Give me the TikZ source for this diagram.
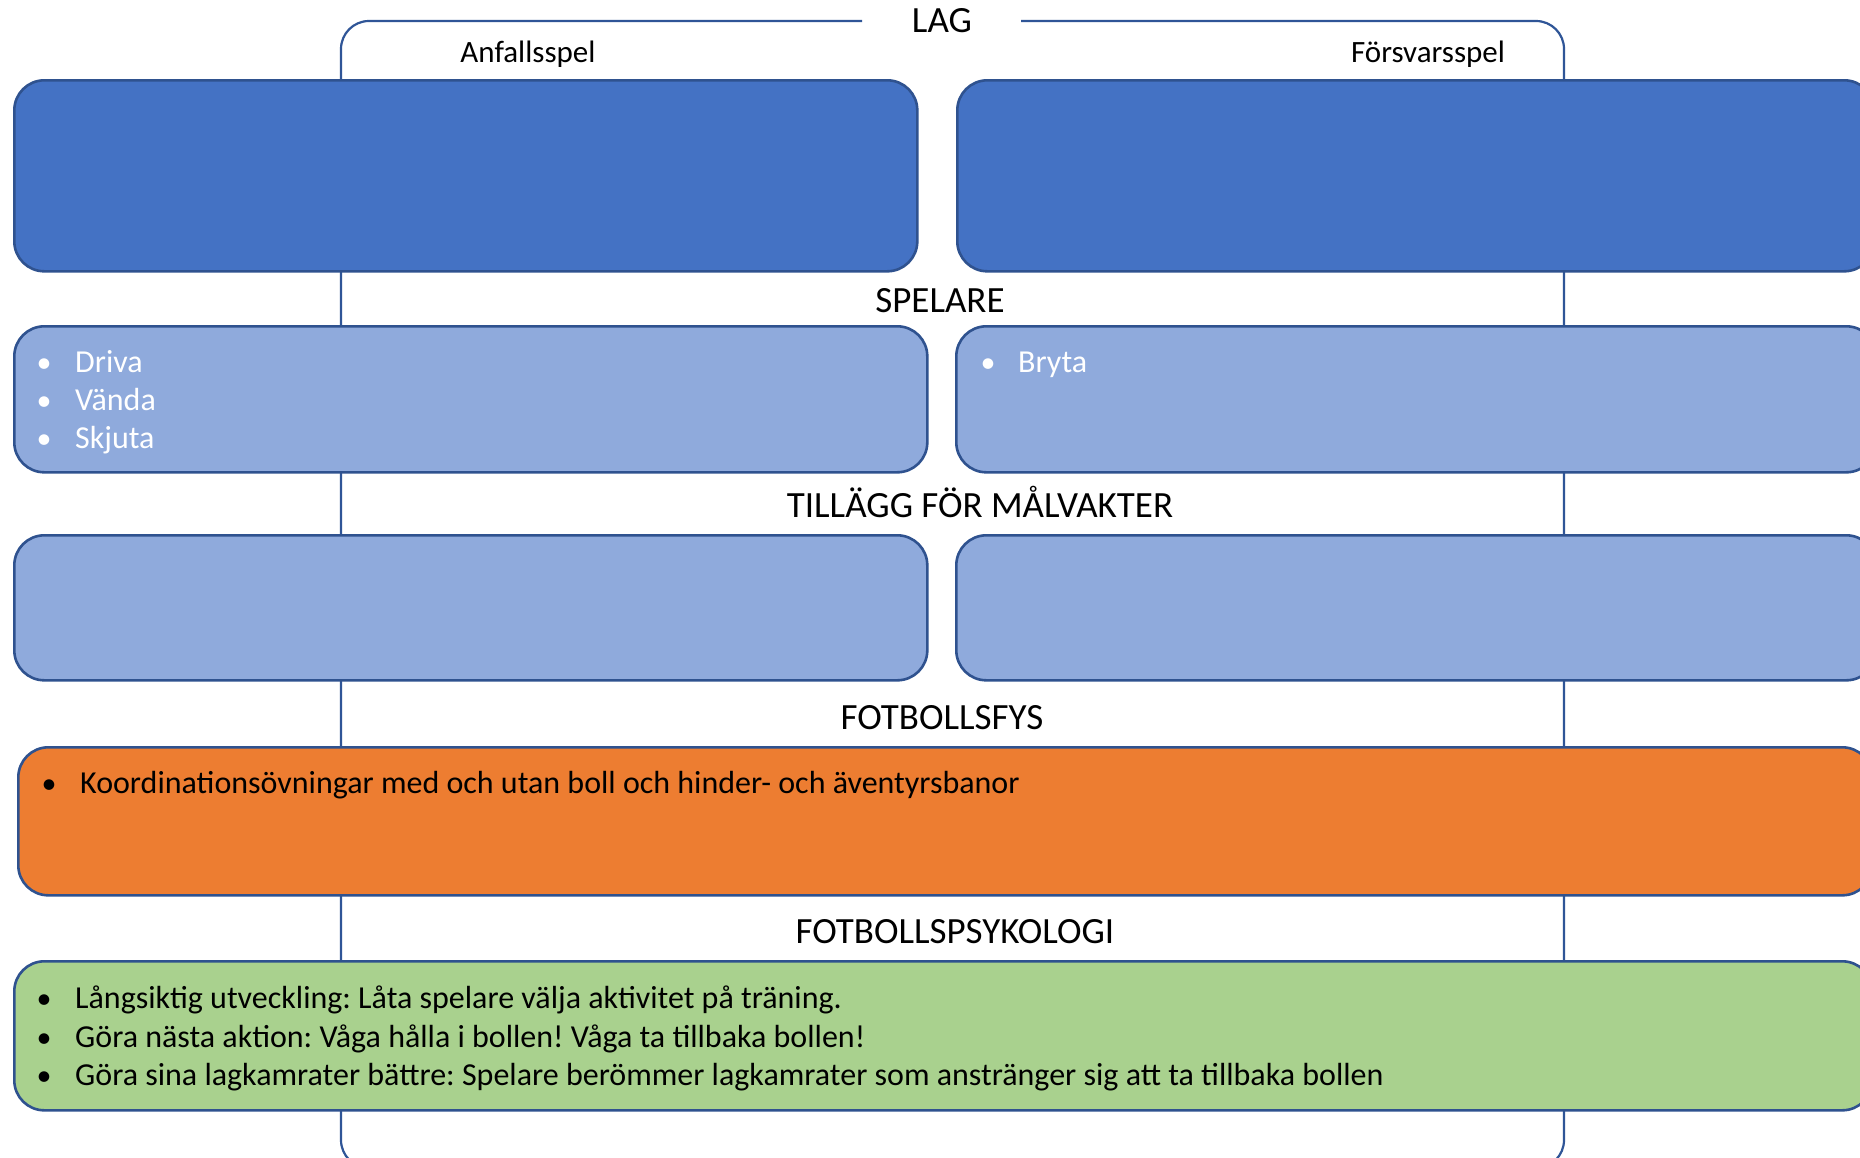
\documentclass[tikz,border=0pt]{standalone}
\usepackage{fontspec}
\setmainfont{Carlito}
\definecolor{dblue}{HTML}{4472C4}
\definecolor{edgeblue}{HTML}{2F528F}
\definecolor{lblue}{HTML}{8FAADC}
\definecolor{orng}{HTML}{ED7D31}
\definecolor{grn}{HTML}{A9D18E}
\definecolor{connblue}{HTML}{2F5597}
\tikzset{
  box/.style={draw=edgeblue, line width=2.6pt, rounded corners=30pt, anchor=north west, inner sep=0pt},
  heading/.style={anchor=base, inner sep=0pt, font=\fontsize{37}{44}\selectfont},
  sublabel/.style={anchor=base, inner sep=0pt, font=\fontsize{31}{37}\selectfont},
  itemtxt/.style={anchor=base west, inner sep=0pt, font=\fontsize{32}{38}\selectfont},
  bul/.style={anchor=base, inner sep=0pt, font=\fontsize{30}{36}\selectfont},
  connline/.style={draw=connblue, line width=2.2pt, rounded corners=28pt}
}
\frenchspacing
\begin{document}
\begin{tikzpicture}[x=1pt,y=-1pt]
\useasboundingbox (0,0) rectangle (1860,1157);
\fill[white] (0,0) rectangle (1860,1157);
\clip (0,0) rectangle (1860,1157);

% bracket coordinates
\coordinate (lagL) at (862,21);
\coordinate (cTL) at (341,21);
\coordinate (cBL) at (341,1168);
\coordinate (cBR) at (1564,1168);
\coordinate (cTR) at (1564,21);
\coordinate (lagR) at (1021,21);
\draw[connline] (lagL) -- (cTL) -- (cBL) -- (cBR) -- (cTR) -- (lagR);

% headings
\node[heading] (lag) at (942,32) {LAG};
\node[sublabel] (anf) at (528,62) {Anfallsspel};
\node[sublabel] (fors) at (1428,62) {Försvarsspel};
\node[heading] (spel) at (940,312) {SPELARE};
\node[heading] (till) at (980,517) {TILLÄGG FÖR MÅLVAKTER};
\node[heading] (fys) at (942,729) {FOTBOLLSFYS};
\node[heading] (psy) at (955,943) {FOTBOLLSPSYKOLOGI};

% row 1
\node[box, fill=dblue, minimum width=903pt, minimum height=191pt] (b1) at (13,79) {};
\node[box, fill=dblue, minimum width=917pt, minimum height=191pt] (b2) at (956,79) {};
% row 2
\node[box, fill=lblue, minimum width=913pt, minimum height=146pt] (s1) at (13,325) {};
\node[box, fill=lblue, minimum width=920pt, minimum height=146pt] (s2) at (955,325) {};
% row 3
\node[box, fill=lblue, minimum width=913pt, minimum height=145pt] (m1) at (13,534) {};
\node[box, fill=lblue, minimum width=920pt, minimum height=145pt] (m2) at (955,534) {};
% row 4
\node[box, fill=orng, minimum width=1854pt, minimum height=148pt] (fysbox) at (17,746) {};
% row 5
\node[box, fill=grn, minimum width=1858pt, minimum height=149pt] (psybox) at (13,960) {};

% texts row 2
\node[bul, text=white] (bu1) at (44,372) {•};
\node[itemtxt, text=white] (t1) at (75,372) {Driva};
\node[bul, text=white] (bu2) at (44,410) {•};
\node[itemtxt, text=white] (t2) at (75,410) {Vända};
\node[bul, text=white] (bu3) at (44,448) {•};
\node[itemtxt, text=white] (t3) at (75,448) {Skjuta};
\node[bul, text=white] (bu4) at (988,372) {•};
\node[itemtxt, text=white] (t4) at (1018,372) {Bryta};

% orange
\node[bul] (bu5) at (49,793) {•};
\node[itemtxt] (t5) at (80,793) {Koordinationsövningar med och utan boll och hinder- och äventyrsbanor};

% green
\node[bul] (bu6) at (44,1008) {•};
\node[itemtxt] (t6) at (75,1008) {Långsiktig utveckling: Låta spelare välja aktivitet på träning.};
\node[bul] (bu7) at (44,1047) {•};
\node[itemtxt] (t7) at (75,1047) {Göra nästa aktion: Våga hålla i bollen! Våga ta tillbaka bollen!};
\node[bul] (bu8) at (44,1085) {•};
\node[itemtxt] (t8) at (75,1085) {Göra sina lagkamrater bättre: Spelare berömmer lagkamrater som anstränger sig att ta tillbaka bollen};
\end{tikzpicture}
\end{document}
